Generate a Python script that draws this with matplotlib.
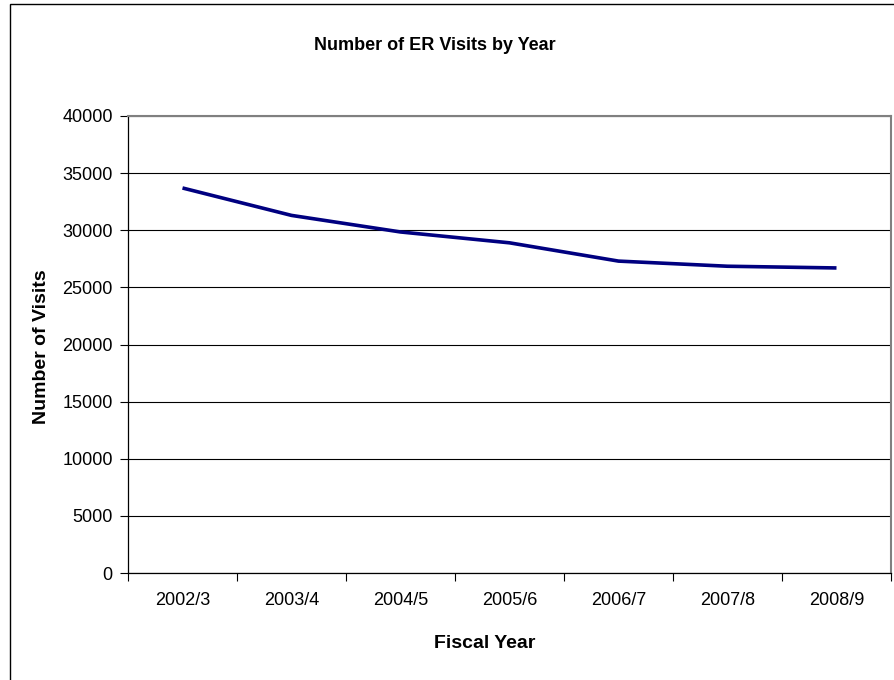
import numpy as np
import matplotlib
matplotlib.use("Agg")
import matplotlib.pyplot as plt
from matplotlib.patches import Rectangle

plt.rcParams['font.family'] = ['Liberation Sans', 'DejaVu Sans']

years = ["2002/3", "2003/4", "2004/5", "2005/6", "2006/7", "2007/8", "2008/9"]
visits = [33700, 31300, 29850, 28900, 27300, 26850, 26700]

fig = plt.figure(figsize=(8.94, 6.80), dpi=100)

# chart frame (top and left edges show, the rest runs off the page)
fig.patches.append(Rectangle((10 / 894, -0.05), 1.2, 1 - 4 / 680 + 0.05,
                             transform=fig.transFigure, fill=False,
                             edgecolor='black', linewidth=1.0))

ax = fig.add_axes([128 / 894, 1 - 573 / 680, (891 - 128) / 894, (573 - 116) / 680])

x = np.arange(len(years))
ax.plot(x, visits, color='#000080', linewidth=2.6, solid_capstyle='butt')

ax.set_xlim(-0.5, len(years) - 0.5)
ax.set_ylim(0, 40000)
ax.set_yticks(np.arange(0, 40001, 5000))
ax.yaxis.grid(True, color='black', linewidth=0.8)
ax.set_axisbelow(True)

# ticks on the category boundaries, labels centred between them
ax.set_xticks(np.arange(-0.5, len(years) + 0.5, 1))
ax.set_xticklabels([])
ax.set_xticks(x, minor=True)
ax.set_xticklabels(years, minor=True)
ax.tick_params(axis='x', which='major', direction='out', length=6, width=0.8)
ax.tick_params(axis='x', which='minor', length=0, pad=14, labelsize=13)
ax.tick_params(axis='y', direction='out', length=6, width=0.8, pad=5, labelsize=13)

for side in ('left', 'bottom'):
    ax.spines[side].set_color('black')
    ax.spines[side].set_linewidth(0.9)
for side in ('top', 'right'):
    ax.spines[side].set_color('#808080')
    ax.spines[side].set_linewidth(1.5)

fig.text(435 / 894, 1 - 46 / 680, "Number of ER Visits by Year",
         ha='center', va='center', fontsize=13, fontweight='bold')
fig.text(42 / 894, 1 - 347 / 680, "Number of Visits", rotation=90,
         ha='center', va='center', fontsize=14, fontweight='bold')
fig.text(485 / 894, 1 - 643 / 680, "Fiscal Year",
         ha='center', va='center', fontsize=14, fontweight='bold')

fig.savefig("out.png", dpi=100)
